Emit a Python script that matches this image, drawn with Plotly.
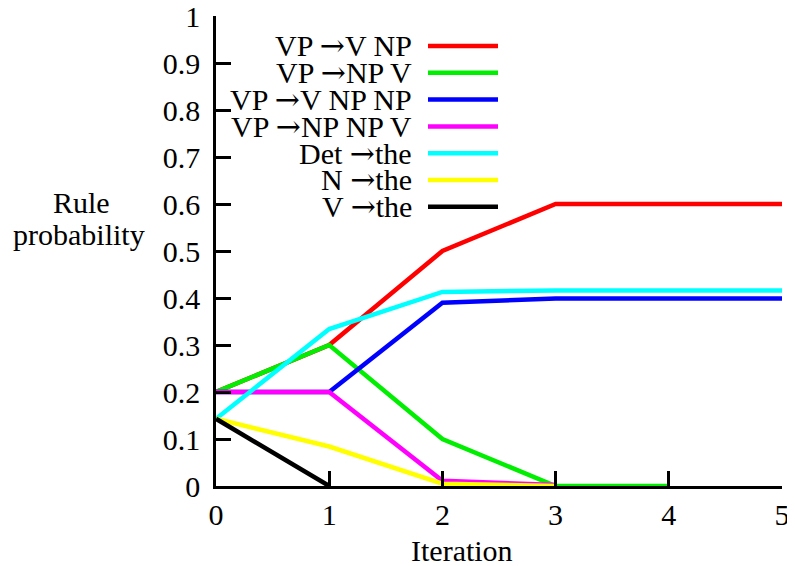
import plotly.graph_objects as go

iterations = [0, 1, 2, 3, 4, 5]
series_names = ["VP →V NP", "VP →NP V", "VP →V NP NP", "VP →NP NP V", "Det →the", "N →the", "V →the"]
series_colors = ["#ff0000", "#00ee00", "#0000ff", "#ff00ff", "#00ffff", "#ffff00", "#000000"]
vp_v_np = [0.2, 0.3, 0.5, 0.6, 0.6, 0.6]
vp_np_v = [0.2, 0.3, 0.1, 0.0, 0.0]
vp_v_np_np = [0.2, 0.2, 0.39, 0.399, 0.399, 0.399]
vp_np_np_v = [0.2, 0.2, 0.011, 0.002]
det_the = [0.143, 0.334, 0.413, 0.416, 0.416, 0.416]
n_the = [0.143, 0.084, 0.005, 0.0]
v_the = [0.143, 0.0]
series_values = [vp_v_np, vp_np_v, vp_v_np_np, vp_np_np_v, det_the, n_the, v_the]
y_ticks = [0, 0.1, 0.2, 0.3, 0.4, 0.5, 0.6, 0.7, 0.8, 0.9, 1]
y_tick_labels = ["0", "0.1", "0.2", "0.3", "0.4", "0.5", "0.6", "0.7", "0.8", "0.9", "1"]
x_tick_labels = ["0", "1", "2", "3", "4", "5"]

FONT = "Liberation Serif"
FS = 30
OFF = 8  # default page body margin
W, H = 795 - OFF, 566 - OFF
# plot area in page pixels: x 216..782, y 16..486
L, R, T, B = 216 - OFF, 795 - 782, 16 - OFF, 566 - 486
PW, PH = W - L - R, H - T - B


def px(x):  # page pixel -> paper x
    return (x - OFF - L) / PW


def py(y):  # page pixel -> paper y
    return (H - B - (y - OFF)) / PH


def with_arrow(s):
    return s.replace(" →", ' <span style="font-family:DejaVu Serif">→</span>')


fig = go.Figure()
for name, color, vals in zip(series_names, series_colors, series_values):
    fig.add_trace(go.Scatter(
        x=iterations[:len(vals)], y=vals, mode="lines", name=name,
        line=dict(color=color, width=4.5), cliponaxis=False, showlegend=False,
    ))

# legend drawn manually: text, then the line sample to its right
row0 = 46
step = 26.8
for i, (name, color) in enumerate(zip(series_names, series_colors)):
    yp = py(row0 + i * step)
    fig.add_annotation(x=px(414), y=yp, xref="paper", yref="paper",
                       text=with_arrow(name), showarrow=False, xanchor="right", yanchor="middle",
                       font=dict(family=FONT, size=FS, color="black"))
    fig.add_shape(type="line", xref="paper", yref="paper",
                  x0=px(428), x1=px(498), y0=yp, y1=yp,
                  line=dict(color=color, width=4.5))

fig.add_annotation(x=px(81), y=py(203), xref="paper", yref="paper",
                   text="Rule", showarrow=False, xanchor="center", yanchor="middle",
                   font=dict(family=FONT, size=FS, color="black"))
fig.add_annotation(x=px(79), y=py(234), xref="paper", yref="paper",
                   text="probability", showarrow=False, xanchor="center", yanchor="middle",
                   font=dict(family=FONT, size=FS, color="black"))
fig.add_annotation(x=px(462), y=py(550), xref="paper", yref="paper",
                   text="Iteration", showarrow=False, xanchor="center", yanchor="middle",
                   font=dict(family=FONT, size=FS, color="black"))

fig.update_xaxes(range=[0, 5], tickvals=iterations, ticktext=x_tick_labels,
                 ticks="inside", ticklen=15, tickwidth=2.5, tickcolor="black",
                 showline=True, linecolor="black", linewidth=2.5, showgrid=False,
                 zeroline=False, ticklabelstandoff=0, automargin=False,
                 ticklabeloverflow="allow",
                 tickfont=dict(family=FONT, size=FS, color="black"))
fig.update_yaxes(range=[0, 1], tickvals=y_ticks, ticktext=y_tick_labels,
                 ticks="inside", ticklen=15, tickwidth=2.5, tickcolor="black",
                 showline=True, linecolor="black", linewidth=2.5, showgrid=False,
                 zeroline=False, ticklabelstandoff=7, automargin=False,
                 ticklabeloverflow="allow",
                 tickfont=dict(family=FONT, size=FS, color="black"))
fig.update_layout(width=W, height=H, margin=dict(l=L, r=R, t=T, b=B),
                  plot_bgcolor="white", paper_bgcolor="white", showlegend=False)
fig.write_html("out.html")
